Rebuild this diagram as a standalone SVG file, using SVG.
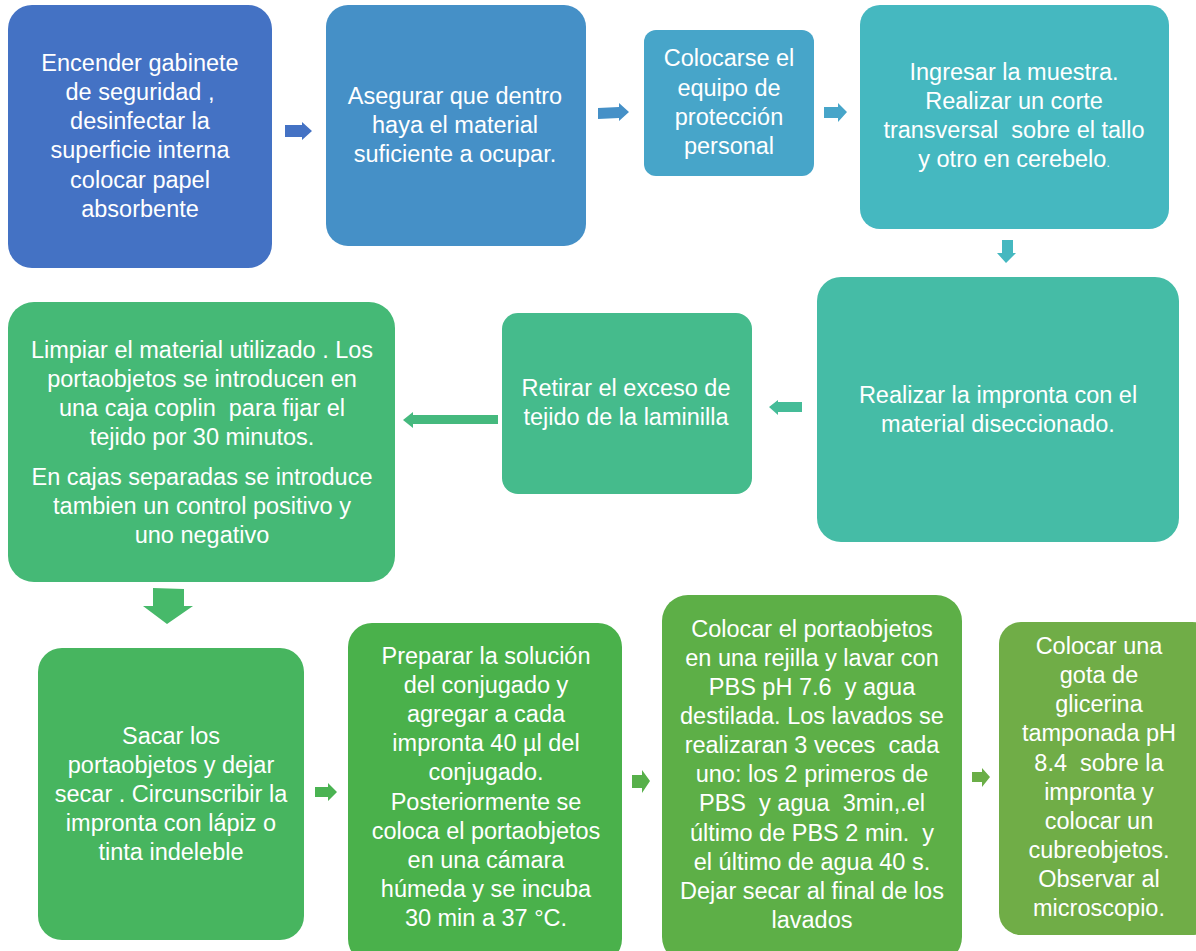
<svg xmlns="http://www.w3.org/2000/svg" width="1196" height="951" viewBox="0 0 1196 951">
<style>
text{font-family:"Liberation Sans",Arial,sans-serif;font-size:23.5px;fill:#fff;text-anchor:middle;white-space:pre}
</style>
<rect width="1196" height="951" fill="#fff"/>
<g id="n1"><rect x="8" y="5" width="264" height="263" rx="24" fill="#4472C4"/>
<text x="140" y="71">Encender gabinete</text><text x="140" y="100">de seguridad ,</text><text x="140" y="129">desinfectar la</text><text x="140" y="158">superficie interna</text><text x="140" y="188">colocar papel</text><text x="140" y="217">absorbente</text></g>
<g id="n2"><rect x="326" y="5" width="260" height="241" rx="22" fill="#4590C7"/>
<text x="455" y="104">Asegurar que dentro</text><text x="455" y="133">haya el material</text><text x="455" y="162">suficiente a ocupar.</text></g>
<g id="n3"><rect x="644" y="30" width="170" height="146" rx="12" fill="#47A5C9"/>
<text x="729" y="66">Colocarse el</text><text x="729" y="96">equipo de</text><text x="729" y="125">protección</text><text x="729" y="154">personal</text></g>
<g id="n4"><rect x="860" y="5" width="309" height="224" rx="20" fill="#45B8C0"/>
<text x="1014" y="80">Ingresar la muestra.</text><text x="1014" y="109">Realizar un corte</text><text x="1014" y="138">transversal  sobre el tallo</text><text x="1014" y="167">y otro en cerebelo<tspan font-size="12">.</tspan></text></g>
<g id="n5"><rect x="817" y="277" width="362" height="265" rx="24" fill="#45BCA6"/>
<text x="998" y="403">Realizar la impronta con el</text><text x="998" y="432">material diseccionado.</text></g>
<g id="n6"><rect x="502" y="313" width="250" height="181" rx="16" fill="#45BB8C"/>
<text x="626" y="396">Retirar el exceso de</text><text x="626" y="425">tejido de la laminilla</text></g>
<g id="n7"><rect x="8" y="302" width="387" height="280" rx="26" fill="#45B976"/>
<text x="202" y="358">Limpiar el material utilizado . Los</text><text x="202" y="387">portaobjetos se introducen en</text><text x="202" y="416">una caja coplin  para fijar el</text><text x="202" y="445">tejido por 30 minutos.</text><text x="202" y="485">En cajas separadas se introduce</text><text x="202" y="514">tambien un control positivo y</text><text x="202" y="543">uno negativo</text></g>
<g id="n8"><rect x="38" y="648" width="266" height="292" rx="24" fill="#47B55F"/>
<text x="171" y="744">Sacar los</text><text x="171" y="773">portaobjetos y dejar</text><text x="171" y="802">secar . Circunscribir la</text><text x="171" y="831">impronta con lápiz o</text><text x="171" y="860">tinta indeleble</text></g>
<g id="n9"><rect x="348" y="623" width="274" height="340" rx="24" fill="#4AB14B"/>
<text x="486" y="664">Preparar la solución</text><text x="486" y="693">del conjugado y</text><text x="486" y="722">agregar a cada</text><text x="486" y="751">impronta 40 µl del</text><text x="486" y="780">conjugado.</text><text x="486" y="810">Posteriormente se</text><text x="486" y="839">coloca el portaobjetos</text><text x="486" y="868">en una cámara</text><text x="486" y="897">húmeda y se incuba</text><text x="486" y="926">30 min a 37 °C.</text></g>
<g id="n10"><rect x="662" y="595" width="300" height="368" rx="26" fill="#5DAF47"/>
<text x="812" y="637">Colocar el portaobjetos</text><text x="812" y="666">en una rejilla y lavar con</text><text x="812" y="695">PBS pH 7.6  y agua</text><text x="812" y="724">destilada. Los lavados se</text><text x="812" y="753">realizaran 3 veces  cada</text><text x="812" y="782">uno: los 2 primeros de</text><text x="812" y="811">PBS  y agua  3min,.el</text><text x="812" y="841">último de PBS 2 min.  y</text><text x="812" y="870">el último de agua 40 s.</text><text x="812" y="899">Dejar secar al final de los</text><text x="812" y="928">lavados</text></g>
<g id="n11"><rect x="999" y="622" width="215" height="313" rx="22" fill="#70AD47"/>
<text x="1099" y="654">Colocar una</text><text x="1099" y="683">gota de</text><text x="1099" y="712">glicerina</text><text x="1099" y="741">tamponada pH</text><text x="1099" y="771">8.4  sobre la</text><text x="1099" y="800">impronta y</text><text x="1099" y="829">colocar un</text><text x="1099" y="858">cubreobjetos.</text><text x="1099" y="887">Observar al</text><text x="1099" y="916">microscopio.</text></g>
<g id="connectors">
<polygon points="285,125 302,125 302,122 312,131 302,140 302,137 285,137" fill="#4472C4"/>
<polygon points="598,108 619,107 619,103 629,112 619,121 619,118 598,119" fill="#4590C7"/>
<polygon points="824,107 838,107 838,103 847,112 838,122 838,118 824,118" fill="#47A5C9"/>
<polygon points="1002,240 1013,240 1013,253 1016,253 1006,263 997,253 1002,253" fill="#45B8C0"/>
<polygon points="498,415 413,415 413,412 403,420 413,428 413,424 498,424" fill="#45B97E"/>
<polygon points="802,402 778,402 778,400 769,407 778,415 778,412 802,412" fill="#45BC98"/>
<polygon points="153,588 184,589 184,606 193,606 167,624 143,606 153,606" fill="#47B96A"/>
<polygon points="315,787 328,787 328,783 337,792 328,801 328,797 315,797" fill="#4AB352"/>
<polygon points="632,775 642,775 642,770 650,781 642,793 642,788 632,788" fill="#57B04A"/>
<polygon points="972,772 982,772 982,768 990,777 982,787 982,782 972,782" fill="#6BAE47"/>
</g>
</svg>
